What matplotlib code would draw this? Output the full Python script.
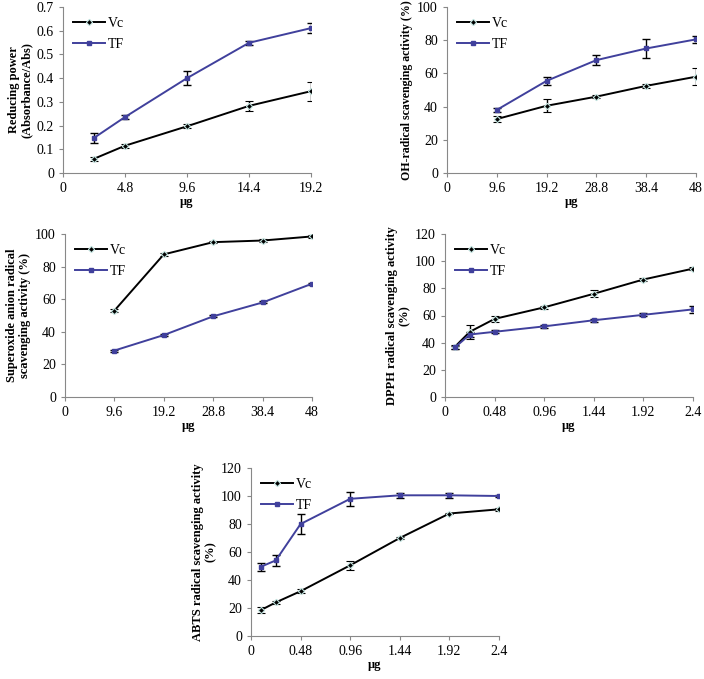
# Antioxidant activity panels: Vc vs TF

import matplotlib.pyplot as plt
import numpy as np

plt.rcParams['font.family'] = ['Liberation Serif', 'DejaVu Serif']
plt.rcParams['font.size'] = 9

# Panel A - reducing power
x_a = [2.4, 4.8, 9.6, 14.4, 19.2]
vc_a = [0.060, 0.115, 0.197, 0.283, 0.345]
vc_a_err = [0.008, 0.008, 0.008, 0.020, 0.040]
tf_a = [0.148, 0.236, 0.400, 0.549, 0.611]
tf_a_err = [0.020, 0.010, 0.030, 0.008, 0.020]

# Panel B - OH radical
x_b = [9.6, 19.2, 28.8, 38.4, 48]
vc_b = [32.5, 40.5, 46.0, 52.5, 58.0]
vc_b_err = [2.0, 4.0, 1.0, 1.0, 5.0]
tf_b = [38.0, 55.5, 68.0, 75.0, 80.5]
tf_b_err = [1.0, 2.5, 3.0, 6.0, 2.0]

# Panel C - superoxide anion
x_c = [9.6, 19.2, 28.8, 38.4, 48]
vc_c = [53.0, 87.5, 95.0, 96.0, 98.5]
vc_c_err = [0.8, 0.8, 0.8, 0.8, 0.8]
tf_c = [28.5, 38.0, 49.5, 58.0, 69.5]
tf_c_err = [0.6, 0.6, 0.6, 0.6, 0.6]

# Panel D - DPPH
x_d = [0.096, 0.24, 0.48, 0.96, 1.44, 1.92, 2.4]
vc_d = [37.0, 48.0, 57.5, 66.0, 76.0, 86.5, 94.5]
vc_d_err = [1.5, 5.0, 2.0, 1.0, 2.5, 1.0, 1.0]
tf_d = [36.5, 46.0, 48.0, 52.0, 56.5, 60.5, 64.5]
tf_d_err = [1.0, 2.0, 1.0, 1.0, 1.0, 1.0, 2.5]

# Panel E - ABTS
x_e = [0.096, 0.24, 0.48, 0.96, 1.44, 1.92, 2.4]
vc_e = [18.5, 24.0, 32.0, 50.5, 70.0, 87.5, 90.5]
vc_e_err = [2.0, 1.0, 1.5, 3.0, 0.5, 0.5, 1.0]
tf_e = [49.5, 54.0, 80.0, 98.0, 100.5, 100.5, 100.0]
tf_e_err = [3.0, 4.0, 7.0, 5.0, 2.0, 2.0, 0.5]

W, H = 704, 679
fig = plt.figure(figsize=(W / 100, H / 100), dpi=100)

TF_COLOR = '#40409c'


def panel(box, x, vc, vc_err, tf, tf_err, xticks, xlabels, ylim, ystep, ylabel, yfmt,
          ylabel_size=9):
    l, t, r, b = box
    ax = fig.add_axes([l / W, 1 - b / H, (r - l) / W, (b - t) / H])
    ax.errorbar(x, vc, yerr=vc_err, color='black', ecolor='black', lw=1.4,
                marker='D', ms=3.2, mfc='black', mec='#bfe0dc', mew=0.8,
                capsize=3, elinewidth=1, label='Vc')
    ax.errorbar(x, tf, yerr=tf_err, color=TF_COLOR, ecolor='black', lw=1.4,
                marker='s', ms=3.3, mfc=TF_COLOR, mec=TF_COLOR,
                capsize=3, elinewidth=1, label='TF')
    ax.set_xlim(0, xticks[-1])
    ax.set_ylim(*ylim)
    ax.set_xticks(xticks)
    ax.set_xticklabels(xlabels)
    yt = np.arange(ylim[0], ylim[1] + ystep / 2, ystep)
    ax.set_yticks(yt)
    ax.set_yticklabels([yfmt(v) for v in yt])
    for s in ['top', 'right']:
        ax.spines[s].set_visible(False)
    for s in ['left', 'bottom']:
        ax.spines[s].set_color('#888888')
        ax.spines[s].set_linewidth(0.8)
    ax.tick_params(direction='out', length=3, width=0.8, color='#888888', labelsize=10)
    ax.set_xlabel('μg', fontweight='bold', fontsize=9, labelpad=1)
    ax.set_ylabel(ylabel, fontweight='bold', fontsize=ylabel_size, labelpad=3,
                  linespacing=1.1)
    handles, labels = ax.get_legend_handles_labels()
    handles = [h[0] for h in handles]
    ax.legend(handles, labels, loc='upper left', frameon=False, fontsize=10,
              handlelength=2.3, labelspacing=0.6, handletextpad=0.25,
              borderaxespad=0.3, bbox_to_anchor=(0.0, 1.0))
    return ax


panel((63, 7, 311, 173), x_a, vc_a, vc_a_err, tf_a, tf_a_err,
      [0, 4.8, 9.6, 14.4, 19.2], ['0', '4.8', '9.6', '14.4', '19.2'],
      (0, 0.7), 0.1, 'Reducing power\n(Absorbance/Abs)',
      lambda v: '0' if abs(v) < 1e-9 else f'{v:.1f}')

panel((447, 7, 696, 173), x_b, vc_b, vc_b_err, tf_b, tf_b_err,
      [0, 9.6, 19.2, 28.8, 38.4, 48], ['0', '9.6', '19.2', '28.8', '38.4', '48'],
      (0, 100), 20, 'OH-radical scavenging activity (%)',
      lambda v: f'{v:.0f}', ylabel_size=8.6)

panel((65, 234, 312, 397), x_c, vc_c, vc_c_err, tf_c, tf_c_err,
      [0, 9.6, 19.2, 28.8, 38.4, 48], ['0', '9.6', '19.2', '28.8', '38.4', '48'],
      (0, 100), 20, 'Superoxide anion radical\nscavenging activity (%)',
      lambda v: f'{v:.0f}')

panel((445, 234, 693, 397), x_d, vc_d, vc_d_err, tf_d, tf_d_err,
      [0, 0.48, 0.96, 1.44, 1.92, 2.4], ['0', '0.48', '0.96', '1.44', '1.92', '2.4'],
      (0, 120), 20, 'DPPH radical scavenging activity\n(%)',
      lambda v: f'{v:.0f}')

panel((251, 468, 499, 636), x_e, vc_e, vc_e_err, tf_e, tf_e_err,
      [0, 0.48, 0.96, 1.44, 1.92, 2.4], ['0', '0.48', '0.96', '1.44', '1.92', '2.4'],
      (0, 120), 20, 'ABTS radical scavenging activity\n(%)',
      lambda v: f'{v:.0f}')

plt.savefig('out.png', dpi=100)
